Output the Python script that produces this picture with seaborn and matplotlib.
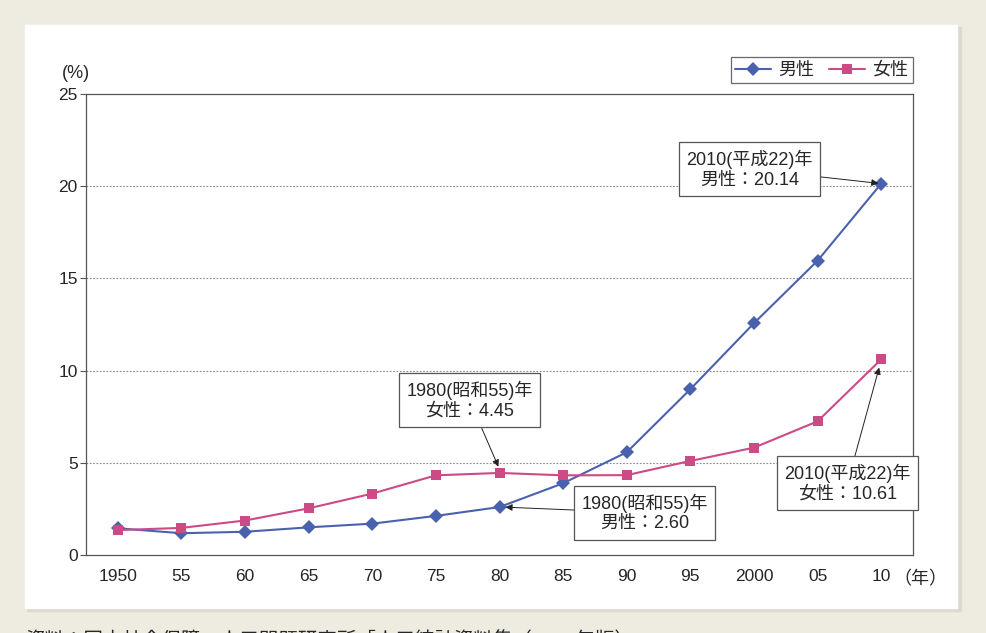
import numpy as np
import pandas as pd
import matplotlib
matplotlib.use("Agg")
from matplotlib import pyplot as plt
import seaborn as sns

# 生涯未婚率 (%)
years = ["1950", "55", "60", "65", "70", "75", "80", "85", "90", "95", "2000", "05", "10"]
men = [1.45, 1.18, 1.26, 1.50, 1.70, 2.12, 2.60, 3.89, 5.57, 8.99, 12.57, 15.96, 20.14]
women = [1.35, 1.47, 1.87, 2.53, 3.33, 4.32, 4.45, 4.32, 4.33, 5.10, 5.82, 7.25, 10.61]
yticks = [0, 5, 10, 15, 20, 25]

sns.set_theme(style="white")
plt.rcParams["font.family"] = ["Liberation Sans", "Noto Sans CJK JP", "DejaVu Sans"]

pos = list(range(len(years)))
df = pd.DataFrame({
    "pos": pos * 2,
    "rate": men + women,
    "sex": ["男性"] * len(years) + ["女性"] * len(years),
})

fig = plt.figure(figsize=(9.87, 6.33), dpi=100)
fig.patch.set_facecolor("#eeebe0")
# white panel with a soft shadow
fig.patches.append(plt.Rectangle((27 / 987, 22 / 633), 934 / 987, 584 / 633,
                                 transform=fig.transFigure, color="#dcd9cf", zorder=-3))
fig.patches.append(plt.Rectangle((25 / 987, 25 / 633), 932 / 987, 583 / 633,
                                 transform=fig.transFigure, color="white", zorder=-2))

ax = fig.add_axes([86 / 987, 78 / 633, 827 / 987, 461 / 633])
ax.set_facecolor("none")

sns.lineplot(data=df, x="pos", y="rate", hue="sex", style="sex",
             hue_order=["男性", "女性"], style_order=["男性", "女性"],
             palette={"男性": "#4a62ad", "女性": "#cc4a86"},
             markers={"男性": "D", "女性": "s"}, dashes=False,
             markersize=7.5, markeredgewidth=0, linewidth=1.5, ax=ax)

ax.set_xlim(-0.5, len(years) - 0.5)
ax.set_ylim(0, 25)
ax.set_xticks(pos)
ax.set_xticklabels(years, fontsize=12.5)
ax.set_xticks(np.arange(0.5, len(years) - 1, 1), minor=True)
ax.tick_params(axis="x", which="major", length=0, pad=10)
ax.tick_params(axis="x", which="minor", direction="in", length=6, color="#555555", width=0.8)
ax.set_yticks(yticks)
ax.set_yticklabels([str(v) for v in yticks], fontsize=12.5)
ax.tick_params(axis="y", direction="out", length=4, color="#555555", width=0.8, pad=2, left=True)
for v in yticks[1:-1]:
    ax.axhline(v, color="#888888", linestyle=(0, (1.5, 1.5)), linewidth=0.8, zorder=0)
for s in ax.spines.values():
    s.set_color("#555555")
    s.set_linewidth(0.9)
ax.set_xlabel("")
ax.set_ylabel("")

ax.text(0.005, 1.025, "(%)", transform=ax.transAxes, fontsize=13, ha="right", va="bottom")
ax.text(12.2, -0.033, "（年）", transform=ax.get_xaxis_transform(), fontsize=13,
        ha="left", va="top", family=["Noto Sans CJK JP"])

leg = ax.legend(loc="lower right", bbox_to_anchor=(1.0, 1.023), ncol=2, frameon=True,
                fancybox=False, edgecolor="#444444", fontsize=13, handlelength=2.0,
                columnspacing=0.8, borderpad=0.25, handletextpad=0.4, borderaxespad=0)
leg.get_frame().set_linewidth(0.9)

box = dict(boxstyle="square,pad=0.4", fc="white", ec="#555555", lw=0.9)
arrow = dict(arrowstyle="-|>", color="#222222", lw=0.7, mutation_scale=10, shrinkA=0, shrinkB=2)
fs = 13
ax.annotate("2010(平成22)年\n男性：20.14", xy=(12, men[12]), xytext=(9.93, 20.93),
            ha="center", va="center", fontsize=fs, linespacing=1.2, bbox=box, arrowprops=arrow)
ax.annotate("1980(昭和55)年\n女性：4.45", xy=(6, women[6] + 0.2), xytext=(5.53, 8.40),
            ha="center", va="center", fontsize=fs, linespacing=1.2, bbox=box, arrowprops=arrow)
ax.annotate("1980(昭和55)年\n男性：2.60", xy=(6.05, men[6]), xytext=(8.28, 2.28),
            ha="center", va="center", fontsize=fs, linespacing=1.2, bbox=box, arrowprops=arrow)
ax.annotate("2010(平成22)年\n女性：10.61", xy=(11.98, women[12] - 0.3), xytext=(11.47, 3.9),
            ha="center", va="center", fontsize=fs, linespacing=1.2, bbox=box, arrowprops=arrow)

fig.text(25 / 987, -17 / 633, "資料：国立社会保障・人口問題研究所「人口統計資料集（2012年版）」",
         fontsize=14, ha="left", va="bottom")

fig.savefig("out.png", dpi=100, facecolor=fig.get_facecolor())
